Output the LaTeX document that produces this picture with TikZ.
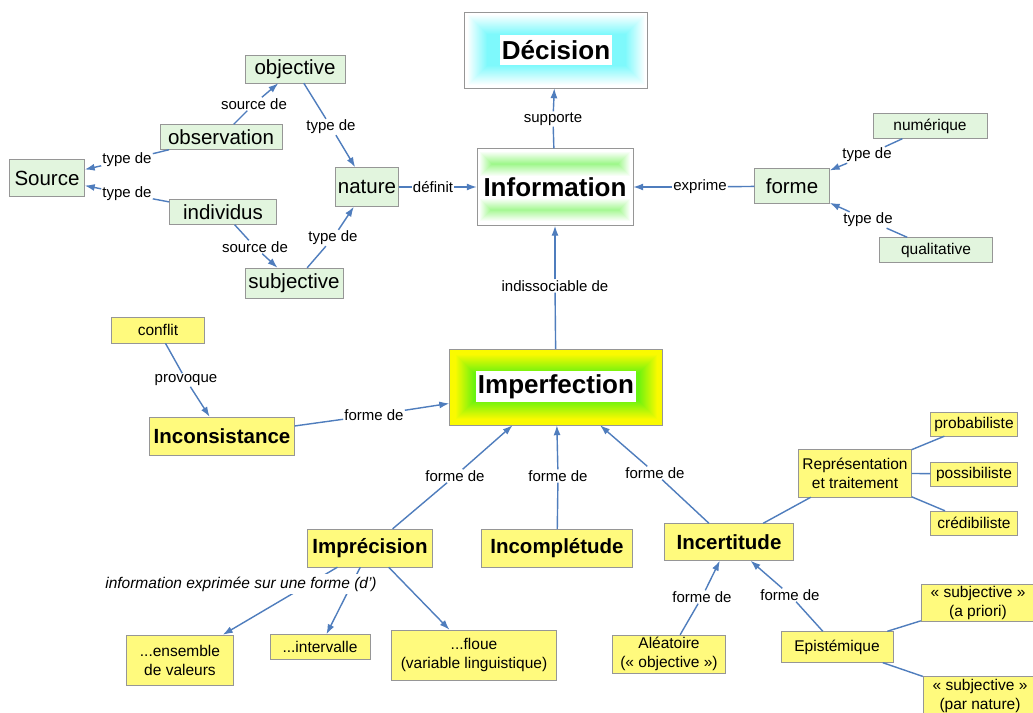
\documentclass[tikz,border=0pt]{standalone}
\usepackage{fontspec}
\setmainfont{Liberation Sans}
\usetikzlibrary{arrows.meta,calc,backgrounds}

\definecolor{cmgreen}{RGB}{226,245,222}
\definecolor{cmyellow}{RGB}{255,250,125}
\definecolor{cmblue}{RGB}{79,125,189}
\definecolor{framegray}{RGB}{150,150,150}
\definecolor{cmcyan}{RGB}{40,245,250}
\definecolor{cmlime}{RGB}{60,240,20}
\definecolor{cmgold}{RGB}{250,250,0}

% soft rectangular glow around a node: node, half width, half height, y offset, colour, base, steps, percent per step, first step
\newcommand{\glowbox}[9]{%
  \foreach \k in {0,...,#7}{%
    \pgfmathtruncatemacro{\pc}{min(100,max(0,(\k-#9)*#8))}%
    \fill[#5!\pc!#6] ($(#1)+(-#2+\k,#4-#3+\k)$) rectangle ($(#1)+(#2-\k,#4+#3-\k)$);
  }}

\begin{document}
\begin{tikzpicture}[x=1pt,y=-1pt,
  gconcept/.style={draw=framegray,fill=cmgreen,inner sep=1pt,font=\fontsize{20.5}{24}\selectfont},
  gsmall/.style={gconcept,font=\fontsize{15.5}{19}\selectfont},
  yconcept/.style={draw=framegray,fill=cmyellow,inner sep=1pt,align=center,font=\fontsize{15.5}{19}\selectfont},
  ybold/.style={yconcept,font=\fontsize{20.5}{24}\selectfont\bfseries},
  titlebox/.style={draw=framegray,inner sep=1pt,font=\fontsize{26}{30}\selectfont\bfseries},
  phrase/.style={inner sep=1pt,font=\fontsize{15}{18}\selectfont},
  dims/.style 2 args={minimum width=#1pt,minimum height=#2pt},
  link/.style={cmblue,line width=1.4pt},
  linkarrow/.style={link,-{Latex[length=10pt,width=7pt]}}]
\path[use as bounding box] (0,0) rectangle (1033,712);

% main concepts
\node[titlebox,dims={183}{76}] (dec) at (556,50) {Décision};
\node[titlebox,dims={156}{77}] (info) at (555,187) {Information};
\node[titlebox,dims={213}{76}] (imperf) at (556,387) {Imperfection};

\begin{pgfonlayer}{background}
\fill[white] (0,0) rectangle (1033,712);
\glowbox{dec}{91.5}{38}{0}{cmcyan}{white}{22}{3}{2}
\fill[white] ($(dec)+(-56,-15)$) rectangle ($(dec)+(56,15)$);
\glowbox{info}{76}{13}{-23}{cmlime}{white}{13}{4}{0}
\glowbox{info}{76}{12}{23}{cmlime}{white}{12}{4}{0}
\glowbox{imperf}{106.5}{38}{0}{cmlime}{cmgold}{24}{4}{5}
\fill[white] ($(imperf)+(-80,-16)$) rectangle ($(imperf)+(80,15)$);
\end{pgfonlayer}

% green concepts
\node[gconcept,dims={75}{37}] (source) at (47,178) {Source};
\node[gconcept,dims={100}{28}] (obj) at (295,69) {objective};
\node[gconcept,dims={122}{25}] (observ) at (221,137) {observation};
\node[gconcept,dims={107}{25}] (indiv) at (223,212) {individus};
\node[gconcept,dims={98}{30}] (subj) at (294,283) {subjective};
\node[gconcept,dims={63}{39}] (nature) at (367,187) {nature};
\node[gconcept,dims={75}{35}] (forme) at (792,186) {forme};
\node[gsmall,dims={114}{25}] (numer) at (930,126) {numérique};
\node[gsmall,dims={113}{25}] (qualit) at (936,250) {qualitative};

% yellow concepts
\node[yconcept,dims={93}{26}] (conflit) at (158,330) {conflit};
\node[ybold,dims={145}{38}] (incons) at (222,436) {Inconsistance};
\node[ybold,dims={125}{38}] (impr) at (370,548) {Imprécision};
\node[ybold,dims={151}{38}] (incompl) at (557,548) {Incomplétude};
\node[ybold,dims={129}{37}] (incert) at (729,542) {Incertitude};
\node[yconcept,dims={113}{48}] (repr) at (855,473) {Représentation\\et traitement};
\node[yconcept,dims={87}{24}] (proba) at (974,424) {probabiliste};
\node[yconcept,dims={87}{24}] (possib) at (974,474) {possibiliste};
\node[yconcept,dims={87}{24}] (credib) at (974,523) {crédibiliste};
\node[yconcept,dims={107}{50}] (ens) at (180,660) {...ensemble\\de valeurs};
\node[yconcept,dims={100}{25}] (intv) at (320,647) {...intervalle};
\node[yconcept,dims={165}{50}] (floue) at (474,655) {...floue\\(variable linguistique)};
\node[yconcept,dims={113}{38}] (alea) at (669,654) {Aléatoire\\(« objective »)};
\node[yconcept,dims={112}{31}] (epist) at (837,647) {Epistémique};
\node[yconcept,dims={114}{37}] (subjA) at (978,603) {« subjective »\\(a priori)};
\node[yconcept,dims={114}{40}] (subjN) at (980,696) {« subjective »\\(par nature)};

% linking phrases
\node[phrase] (lsup) at (553,119) {supporte};
\node[phrase] (ldef) at (433,187) {définit};
\node[phrase] (lexp) at (700,187) {exprime};
\node[phrase] (lind) at (555,286) {indissociable de};
\node[phrase] (lsrc1) at (254,104) {source de};
\node[phrase] (ltyp1) at (331,127) {type de};
\node[phrase] (ltyp2) at (127,160) {type de};
\node[phrase] (ltyp3) at (127,194) {type de};
\node[phrase] (lsrc2) at (255,247) {source de};
\node[phrase] (ltyp4) at (333,238) {type de};
\node[phrase] (ltyp5) at (867,155) {type de};
\node[phrase] (ltyp6) at (868,220) {type de};
\node[phrase] (lprov) at (186,380) {provoque};
\node[phrase] (lfor1) at (374,415) {forme de};
\node[phrase] (lfor2) at (455,476) {forme de};
\node[phrase] (lfor3) at (558,476) {forme de};
\node[phrase] (lfor4) at (655,473) {forme de};
\node[phrase] (lfor5) at (702,597) {forme de};
\node[phrase] (lfor6) at (790,595) {forme de};

% links
\draw[link] (info) to (lsup);
\draw[linkarrow] (lsup) to (dec);
\draw[link] (nature) to (ldef);
\draw[linkarrow] (ldef) to (info);
\draw[link] (forme) to (lexp);
\draw[linkarrow] (lexp) to (info);
\draw[link] (imperf) to (lind);
\draw[linkarrow] (lind) to (info);
\draw[link] (observ) to (lsrc1);
\draw[linkarrow] (lsrc1) to (obj);
\draw[link] (obj) to (ltyp1);
\draw[linkarrow] (ltyp1) to (nature);
\draw[link] (observ) to (ltyp2);
\draw[linkarrow] (ltyp2) to (source);
\draw[link] (indiv) to (ltyp3);
\draw[linkarrow] (ltyp3) to (source);
\draw[link] (indiv) to (lsrc2);
\draw[linkarrow] (lsrc2) to (subj);
\draw[link] (subj) to (ltyp4);
\draw[linkarrow] (ltyp4) to (nature);
\draw[link] (numer) to (ltyp5);
\draw[linkarrow] (ltyp5) to (forme);
\draw[link] (qualit) to (ltyp6);
\draw[linkarrow] (ltyp6) to (forme);
\draw[link] (conflit) to (lprov);
\draw[linkarrow] (lprov) to (incons);
\draw[link] (incons) to (lfor1);
\draw[linkarrow] (lfor1) to (imperf);
\draw[link] (impr) to (lfor2);
\draw[linkarrow] (lfor2) to (imperf);
\draw[link] (incompl) to (lfor3);
\draw[linkarrow] (lfor3) to (imperf);
\draw[link] (incert) to (lfor4);
\draw[linkarrow] (lfor4) to (imperf);
\draw[link] (alea) to (lfor5);
\draw[linkarrow] (lfor5) to (incert);
\draw[link] (epist) to (lfor6);
\draw[linkarrow] (lfor6) to (incert);
\draw[link] (incert) to (repr);
\draw[link] (repr) to (proba);
\draw[link] (repr) to (possib);
\draw[link] (repr) to (credib);
\draw[link] (epist) to (subjA);
\draw[link] (epist) to (subjN);
\draw[linkarrow] (impr) to (intv);
\draw[linkarrow] (impr) to (ens);
\draw[linkarrow] (impr) to (floue);
\node[phrase,fill=white,inner sep=3pt,font=\fontsize{15.5}{18}\selectfont\itshape] (lform) at (241,584) {information exprimée sur une forme (d')};
\end{tikzpicture}
\end{document}
